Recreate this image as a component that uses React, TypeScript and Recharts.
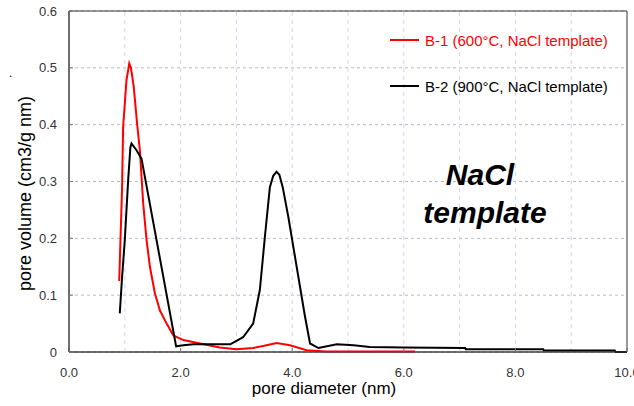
import { LineChart, Line, XAxis, YAxis, CartesianGrid, ReferenceLine, ReferenceArea } from "recharts";

const b1Diameter = [0.9, 0.95, 0.97, 1.03, 1.08, 1.11, 1.16, 1.22, 1.27, 1.33, 1.39, 1.45, 1.54, 1.63, 1.75, 1.87, 2.05, 2.35, 2.7, 3.0, 3.3, 3.5, 3.72, 3.96, 4.26, 4.6, 6.2];
const b1Volume = [0.125, 0.285, 0.396, 0.478, 0.508, 0.5, 0.467, 0.402, 0.355, 0.261, 0.197, 0.15, 0.103, 0.073, 0.05, 0.029, 0.021, 0.015, 0.008, 0.005, 0.007, 0.011, 0.016, 0.012, 0.003, 0.001, 0.001];

const b2Diameter = [0.91, 0.95, 1.0, 1.06, 1.1, 1.12, 1.21, 1.3, 1.92, 2.05, 2.23, 2.89, 3.12, 3.3, 3.42, 3.51, 3.6, 3.66, 3.72, 3.77, 3.83, 3.93, 4.08, 4.23, 4.32, 4.47, 4.8, 5.1, 5.39, 6.0, 7.1, 7.11, 8.5, 8.51, 9.78, 9.8, 10.0];
const b2Volume = [0.068, 0.13, 0.197, 0.302, 0.36, 0.367, 0.355, 0.34, 0.01, 0.012, 0.0135, 0.0135, 0.026, 0.05, 0.109, 0.202, 0.29, 0.31, 0.317, 0.312, 0.29, 0.238, 0.15, 0.062, 0.015, 0.007, 0.0135, 0.012, 0.009, 0.0078, 0.007, 0.0047, 0.0047, 0.0025, 0.0025, 0, 0];

const xTicks = [0, 2, 4, 6, 8, 10];
const yTicks = [0, 0.1, 0.2, 0.3, 0.4, 0.5, 0.6];
const xGridLines = [1, 2, 3, 4, 5, 6, 7, 8, 9];

const seriesNames = ["B-1 (600°C, NaCl template)", "B-2 (900°C, NaCl template)"];
const seriesColors = ["#ff0000", "#000000"];

const b1 = b1Diameter.map((d, i) => ({ d, v: b1Volume[i] }));
const b2 = b2Diameter.map((d, i) => ({ d, v: b2Volume[i] }));

const font = "'Liberation Sans', Arial, sans-serif";

export default function App() {
  return (
    <div style={{ position: "absolute", left: 0, top: 0, width: 634, height: 406, background: "#fff", fontFamily: font }}>
      <LineChart width={634} height={406} margin={{ top: 11, right: 7, bottom: 0, left: 0 }}>
        <CartesianGrid vertical={false} stroke="#bbbbbb" strokeDasharray="3 3" />
        {xGridLines.map((x) => (
          <ReferenceLine key={x} x={x} stroke="#d4d4f4" strokeDasharray="4 4" />
        ))}
        <XAxis
          type="number"
          dataKey="d"
          domain={[0, 10]}
          ticks={xTicks}
          interval={0}
          allowDataOverflow
          tickFormatter={(v: number) => v.toFixed(1)}
          tick={{ fill: "#333", fontSize: 13, fontFamily: font }}
          tickSize={-4}
          tickMargin={20}
          tickLine={{ stroke: "#777" }}
          axisLine={{ stroke: "#444" }}
          height={54}
          label={{ value: "pore diameter (nm)", position: "insideBottom", offset: 12, dx: -24, fill: "#000", fontSize: 17, fontFamily: font }}
        />
        <YAxis
          type="number"
          domain={[0, 0.6]}
          ticks={yTicks}
          interval={0}
          tickFormatter={(v: number) => (v === 0 ? "0" : v.toFixed(1))}
          tick={{ fill: "#333", fontSize: 13, fontFamily: font }}
          tickSize={-4}
          tickMargin={16}
          tickLine={{ stroke: "#777" }}
          axisLine={{ stroke: "#444" }}
          width={69}
          label={{ value: "pore volume (cm3/g nm)", angle: -90, position: "insideLeft", offset: 25, dy: 12, fill: "#000", fontSize: 18, fontFamily: font, style: { textAnchor: "middle" } }}
        />
        <ReferenceArea x1={0} x2={10} y1={0} y2={0.6} fill="none" stroke="#333" strokeWidth={1} />
        <Line data={b1} dataKey="v" name={seriesNames[0]} stroke={seriesColors[0]} strokeWidth={2} dot={false} type="linear" isAnimationActive={false} />
        <Line data={b2} dataKey="v" name={seriesNames[1]} stroke={seriesColors[1]} strokeWidth={2} dot={false} type="linear" isAnimationActive={false} />
      </LineChart>
      <div style={{ position: "absolute", left: 390, top: 31, fontSize: 15 }}>
        {seriesNames.map((name, i) => (
          <div key={name} style={{ display: "flex", alignItems: "center", height: 18, marginBottom: i === 0 ? 28 : 0 }}>
            <span style={{ display: "inline-block", width: 29, height: 2, background: seriesColors[i], marginRight: 6 }} />
            <span style={{ color: seriesColors[i] }}>{name}</span>
          </div>
        ))}
      </div>
      <div style={{ position: "absolute", left: 9, top: 66, fontSize: 12, color: "#000" }}>.</div>
      <div style={{ position: "absolute", left: 400, top: 156, width: 170, textAlign: "center", fontSize: 30, fontWeight: "bold", fontStyle: "italic", lineHeight: "38px", color: "#000" }}>
        <div style={{ marginLeft: -10 }}>NaCl</div>
        <div>template</div>
      </div>
    </div>
  );
}
